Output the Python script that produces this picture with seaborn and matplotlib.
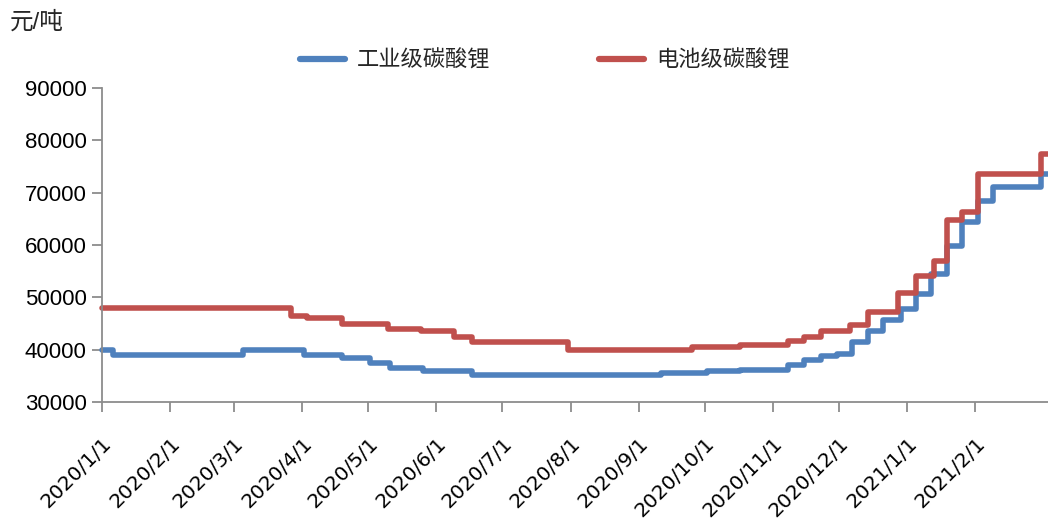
import pandas as pd
import numpy as np
import matplotlib.pyplot as plt
import matplotlib.dates as mdates
from matplotlib.ticker import FuncFormatter, FixedLocator
import seaborn as sns

# ── Data (元/吨, step changes) ─────────────────────────────────────
ind_dates = ["2020-01-01", "2020-01-06", "2020-03-05", "2020-04-02", "2020-04-19",
             "2020-05-02", "2020-05-11", "2020-05-26", "2020-06-17", "2020-09-11",
             "2020-10-02", "2020-10-17", "2020-11-08", "2020-11-15", "2020-11-23",
             "2020-11-30", "2020-12-07", "2020-12-14", "2020-12-21", "2020-12-29",
             "2021-01-05", "2021-01-12", "2021-01-19", "2021-01-26", "2021-02-02",
             "2021-02-09", "2021-03-03", "2021-03-06"]
ind_prices = [40000, 39000, 40000, 39000, 38500,
              37500, 36500, 36000, 35200, 35600,
              36000, 36100, 37000, 38000, 38800,
              39200, 41500, 43500, 45600, 47800,
              50700, 54400, 59900, 64300, 68500,
              71000, 73500, 73500]

bat_dates = ["2020-01-01", "2020-03-27", "2020-04-03", "2020-04-19", "2020-05-10",
             "2020-05-25", "2020-06-09", "2020-06-17", "2020-07-31", "2020-09-25",
             "2020-10-17", "2020-11-08", "2020-11-15", "2020-11-23", "2020-12-06",
             "2020-12-14", "2020-12-28", "2021-01-05", "2021-01-13", "2021-01-19",
             "2021-01-26", "2021-02-02", "2021-03-03", "2021-03-06"]
bat_prices = [48000, 46500, 46000, 45000, 44000,
              43500, 42500, 41500, 40000, 40500,
              40800, 41600, 42500, 43500, 44800,
              47200, 50800, 54000, 57000, 64700,
              66400, 73500, 77400, 77400]

tick_months = pd.date_range("2020-01-01", "2021-02-01", freq="MS")

series_names = ["工业级碳酸锂", "电池级碳酸锂"]
colors = ["#4F81BD", "#C0504D"]

df = pd.concat([
    pd.DataFrame({"date": pd.to_datetime(ind_dates), "price": ind_prices, "series": series_names[0]}),
    pd.DataFrame({"date": pd.to_datetime(bat_dates), "price": bat_prices, "series": series_names[1]}),
], ignore_index=True)

# ── Style ──────────────────────────────────────────────────────────
sns.set_theme(style="white")
plt.rcParams["font.family"] = ["Liberation Sans", "Noto Sans CJK SC", "DejaVu Sans"]

fig = plt.figure(figsize=(10.48, 5.24), dpi=100)
ax = fig.add_axes([102 / 1048, 122 / 524, 946 / 1048, 314 / 524])

sns.lineplot(data=df, x="date", y="price", hue="series", hue_order=series_names,
             palette=colors, estimator=None, drawstyle="steps-post",
             linewidth=4, ax=ax, legend=False, clip_on=False)

ax.set_xlim(pd.Timestamp("2020-01-01"), pd.Timestamp("2021-03-06"))
ax.set_ylim(30000, 90000)
ax.set_yticks(np.arange(30000, 90001, 10000))
ax.set_xlabel("")
ax.set_ylabel("")

ax.xaxis.set_major_locator(FixedLocator(mdates.date2num(tick_months)))
ax.xaxis.set_major_formatter(FuncFormatter(
    lambda v, pos: (lambda d: f"{d.year}/{d.month}/{d.day}")(mdates.num2date(v))))

for side in ["top", "right"]:
    ax.spines[side].set_visible(False)
for side in ["left", "bottom"]:
    ax.spines[side].set_color("#8c8c8c")
    ax.spines[side].set_linewidth(1.3)

ax.tick_params(axis="y", which="major", left=True, length=7, width=1.3,
               color="#8c8c8c", labelsize=16, pad=4, labelcolor="black")
ax.tick_params(axis="x", which="major", bottom=True, length=7, width=1.3,
               color="#8c8c8c", labelsize=14.5, pad=16, labelcolor="black")
for lbl in ax.get_xticklabels():
    lbl.set_rotation(45)
    lbl.set_ha("right")
    lbl.set_rotation_mode("anchor")
    lbl.set_fontfamily("DejaVu Sans")

# legend above the plot
handles = [plt.Line2D([], [], color=c, lw=4.5, solid_capstyle="round") for c in colors]
fig.legend(handles, series_names, loc="center", bbox_to_anchor=(0.52, 0.883),
           ncol=2, frameon=False, fontsize=16, handlelength=2.0,
           handletextpad=0.55, columnspacing=4.9)

fig.text(10 / 1048, 1 - 22 / 524, "元/吨", fontsize=17, ha="left", va="center")

fig.savefig("out.png", dpi=100)
plt.close()
